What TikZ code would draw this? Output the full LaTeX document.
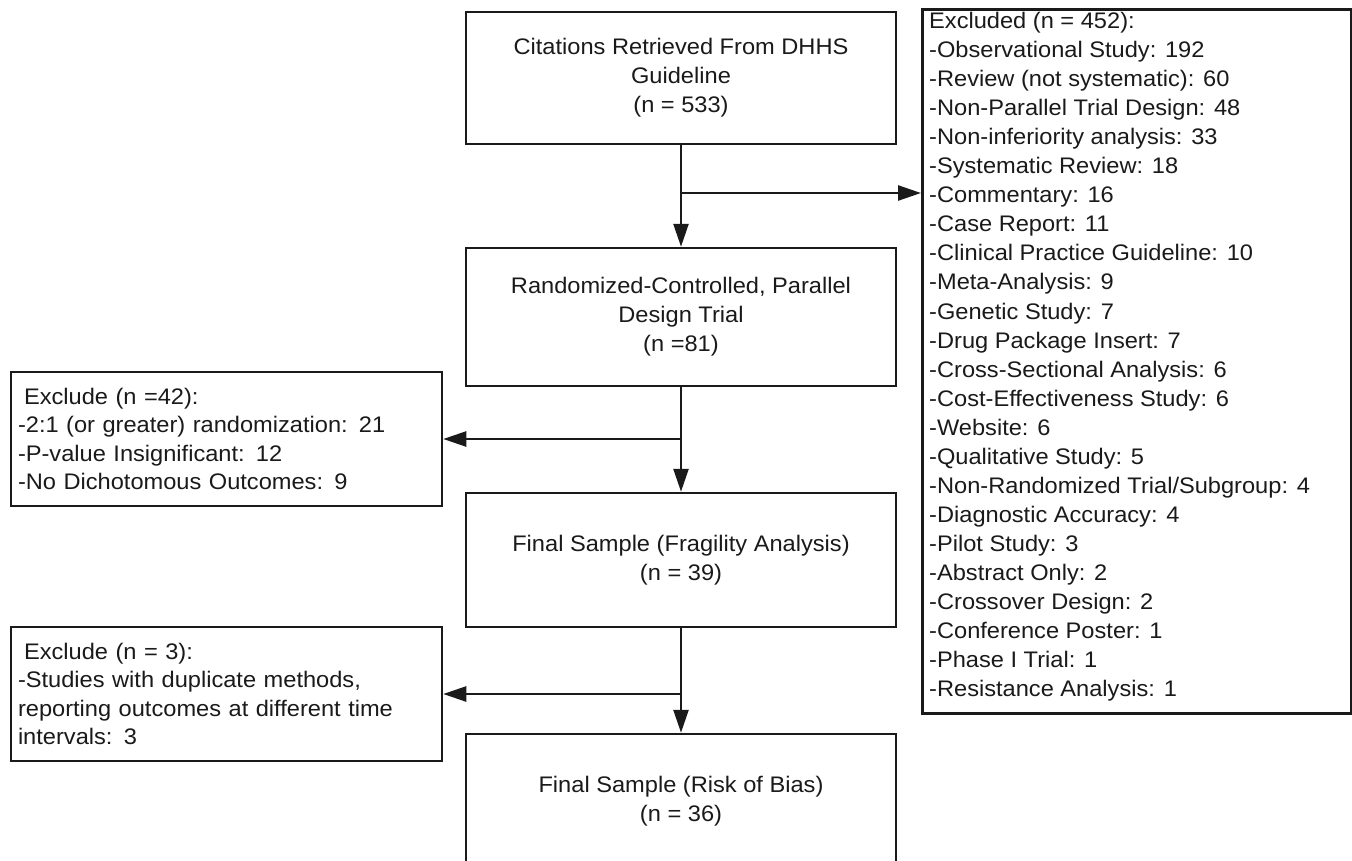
\documentclass[tikz,border=0pt]{standalone}
\usepackage{fontspec}
\setmainfont{Liberation Sans}[FakeStretch=1.05]
\usetikzlibrary{arrows.meta,calc}
\definecolor{ink}{HTML}{1A1A1A}
\begin{document}
\begin{tikzpicture}[x=1pt,y=-1pt,
  box/.style={draw=ink,line width=2.5pt,text=ink,inner sep=0pt},
  mainbox/.style={box,minimum width=430pt,align=center,font=\fontsize{22.5}{29}\selectfont},
  sidebox/.style={box,inner xsep=7pt,text width=417pt,align=left,font=\fontsize{22.5}{28.3}\selectfont},
  listtext/.style={text=ink,inner sep=0pt,align=left,font=\fontsize{22.5}{29.05}\selectfont},
  arr/.style={draw=ink,line width=2.5pt,-{Triangle[length=23pt,width=15pt]}}]
\useasboundingbox (0,0) rectangle (1352,860);
\fill[white] (0,0) rectangle (1352,860);
\clip (0,0) rectangle (1352,860);

\node[mainbox,minimum height=132pt] (b1) at (681,78) {Citations Retrieved From DHHS\\Guideline\\(n = 533)};
\node[mainbox,minimum height=138pt] (b2) at (681,317) {Randomized-Controlled, Parallel\\Design Trial\\(n =81)};
\node[mainbox,minimum height=134pt] (b3) at (681,560) {Final Sample (Fragility Analysis)\\(n = 39)};
\node[mainbox,minimum height=134pt] (b4) at (681,801) {Final Sample (Risk of Bias)\\(n = 36)};

\node[sidebox,minimum height=134pt] (e42) at (226.5,439) {\hspace*{6pt}Exclude (n =42):\\-2:1 (or greater) randomization: 21\\-P-value Insignificant: 12\\-No Dichotomous Outcomes: 9};
\node[sidebox,minimum height=134pt] (e3) at (226.5,694) {\hspace*{6pt}Exclude (n = 3):\\-Studies with duplicate methods,\\reporting outcomes at different time\\intervals: 3};

\node[box,anchor=north west,minimum width=429pt,minimum height=704pt] (ex) at (921,8) {};
\node[listtext,anchor=north west] (extext) at ($(ex.north west)+(8,4)$) {Excluded (n = 452):\\
-Observational Study: 192\\
-Review (not systematic): 60\\
-Non-Parallel Trial Design: 48\\
-Non-inferiority analysis: 33\\
-Systematic Review: 18\\
-Commentary: 16\\
-Case Report: 11\\
-Clinical Practice Guideline: 10\\
-Meta-Analysis: 9\\
-Genetic Study: 7\\
-Drug Package Insert: 7\\
-Cross-Sectional Analysis: 6\\
-Cost-Effectiveness Study: 6\\
-Website: 6\\
-Qualitative Study: 5\\
-Non-Randomized Trial/Subgroup: 4\\
-Diagnostic Accuracy: 4\\
-Pilot Study: 3\\
-Abstract Only: 2\\
-Crossover Design: 2\\
-Conference Poster: 1\\
-Phase I Trial: 1\\
-Resistance Analysis: 1};

\coordinate (j1) at (681,193);
\coordinate (j2) at (681,439);
\coordinate (j3) at (681,694);

\draw[arr] (b1.south) -- (b2.north);
\draw[arr] (j1) -- (j1 -| ex.west);
\draw[arr] (b2.south) -- (b3.north);
\draw[arr] (j2) -- (j2 -| e42.east);
\draw[arr] (b3.south) -- (b4.north);
\draw[arr] (j3) -- (j3 -| e3.east);
\end{tikzpicture}
\end{document}
